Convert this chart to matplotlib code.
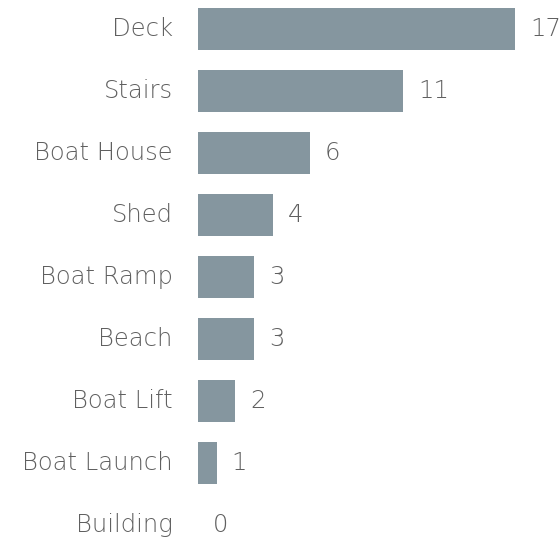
import matplotlib
matplotlib.use("Agg")
import matplotlib.pyplot as plt

categories = ["Deck", "Stairs", "Boat House", "Shed", "Boat Ramp", "Beach", "Boat Lift", "Boat Launch", "Building"]
values = [17, 11, 6, 4, 3, 3, 2, 1, 0]

W, H = 560, 543
fig = plt.figure(figsize=(W / 100, H / 100), dpi=100)
x0 = 198
ax = fig.add_axes([x0 / W, 0, 1 - x0 / W, 1])
px_per_unit = (515 - x0) / 17
ax.set_xlim(0, (W - x0) / px_per_unit)
spacing = 62
c0 = 29
ax.set_ylim((H - c0) / spacing, -c0 / spacing)

ypos = list(range(len(categories)))
ax.barh(ypos, values, height=42 / spacing, color="#85969f")
for y, v, c in zip(ypos, values, categories):
    ax.text(v + 0.8, y, str(v), va="center", ha="left", fontsize=17.5, color="#606060",
            family="DejaVu Sans", fontweight="light")
    ax.text(-1.35, y, c, va="center", ha="right", fontsize=17.5, color="#606060",
            family="DejaVu Sans", fontweight="light")

ax.axis("off")
fig.savefig("out.png", dpi=100)
